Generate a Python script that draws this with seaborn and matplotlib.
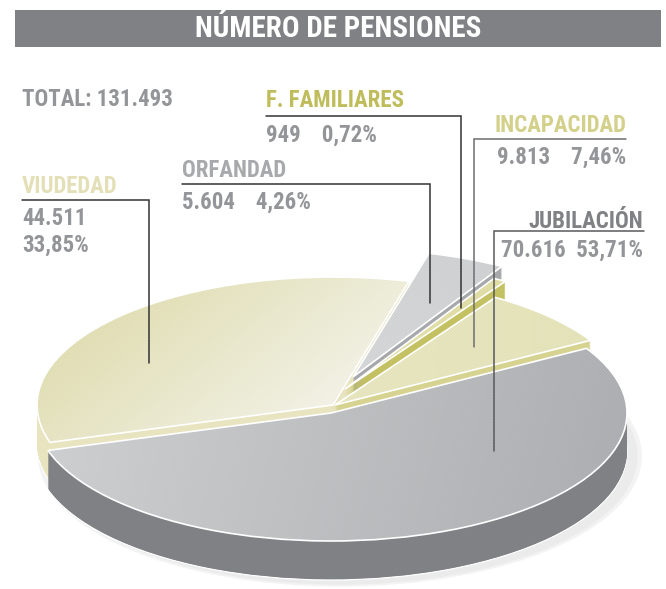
import numpy as np
import seaborn as sns
import matplotlib.pyplot as plt

sns.set_theme(style="white")
plt.rcParams['font.family'] = ['Roboto Condensed', 'DejaVu Sans']

W, H = 666, 589
RX, RY = 296, 128   # pie radius on screen, px
DEPTH = 39

categories = ["JUBILACIÓN", "INCAPACIDAD", "F. FAMILIARES", "ORFANDAD", "VIUDEDAD"]
counts = [70616, 9813, 949, 5604, 44511]
count_labels = ["70.616", "9.813", "949", "5.604", "44.511"]
pct_labels = ["53,71%", "7,46%", "0,72%", "4,26%", "33,85%"]
total_label = "TOTAL: 131.493"
title = "NÚMERO DE PENSIONES"

# where each slice was pulled to, px
centers = [(331, 413), (335, 405), (345, 389), (353, 377), (333, 405)]
wall_colors = ["#808184", "#d6d391", "#c4c162", "#a7a8ab", "#e7e4bf"]
wall_z = [9, 6, 4, 2, 1]
top_z = [10, 7, 5, 3, 8]
# gradient start, end, direction (dx, dy)
top_fill = [("#cdcfd0", "#a9abae", (1, 0.25)),
            ("#e8e6c4", "#e2e0b6", (1, 0)),
            ("#e2e0ae", "#dcda9f", (1, 0)),
            ("#dcddde", "#c9cacc", (1, -0.6)),
            ("#d9d6a2", "#f0efe3", (0.8, 1))]


def X(px):
    return px / RX


def Y(py):
    return (H - py) / RY


fig = plt.figure(figsize=(W / 100, H / 100), dpi=100)
ax = fig.add_axes([0, 0, 1, 1])

# soft shadow under the pie
for r, col in [(1.02, "#f3f3f4"), (1.005, "#ebebec")]:
    sh = ax.pie([1], radius=r, colors=[col], center=(X(340), Y(456)),
                wedgeprops=dict(linewidth=0))[0][0]
    sh.set_zorder(0)

# side walls, lowest layer first
for d in range(DEPTH, 0, -1):
    wedges = ax.pie(counts, startangle=197, colors=wall_colors,
                    wedgeprops=dict(linewidth=0))[0]
    for i, w in enumerate(wedges):
        w.set_center((X(centers[i][0]), Y(centers[i][1] + d)))
        w.set_zorder(wall_z[i])
        if d == DEPTH:
            w.set_edgecolor("white")
            w.set_linewidth(0.9)

# top faces
yy, xx = np.mgrid[0:H, 0:W]
stripes = ((xx + yy) % 3 == 0) * 0.025
tops = ax.pie(counts, startangle=197, colors=["none"] * 5,
              wedgeprops=dict(edgecolor="white", linewidth=1.2))[0]
for i, w in enumerate(tops):
    w.set_center((X(centers[i][0]), Y(centers[i][1])))
    w.set_zorder(top_z[i] + 0.5)
    c0, c1, (dx, dy) = top_fill[i]
    cmap = sns.blend_palette([c0, c1], as_cmap=True)
    grad = (xx - centers[i][0]) * dx + (yy - centers[i][1]) * dy
    lo, hi = -RX * abs(dx) - RY * abs(dy), RX * abs(dx) + RY * abs(dy)
    if i == 4:
        hi = 0
    rgb = cmap(np.clip((grad - lo) / (hi - lo), 0, 1))[:, :, :3]
    rgb = np.clip(rgb + stripes[:, :, None], 0, 1)
    im = ax.imshow(rgb, extent=(X(0), X(W), Y(H), Y(0)), origin="upper",
                   aspect="auto", interpolation="nearest", zorder=top_z[i])
    im.set_clip_path(w)

# title band
ax.fill_between([X(15), X(661)], Y(47), Y(10), color="#808184", lw=0, zorder=11)
ax.text(X(338), Y(29), title, color="white", fontsize=21, fontweight="bold",
        ha="center", va="center", zorder=12)

GREY = "#939598"
FS = 16.5
ax.text(X(22), Y(106), total_label, color=GREY, fontsize=FS, fontweight="bold", va="baseline")

# label x, name baseline, value baseline, name colour, alignment
label_x = [643, 626, 266, 182, 22]
name_y = [228, 132, 107, 177, 193]
value_y = [257, 164, 142, 209, 225]
name_colors = ["#808184", "#d3d08a", "#bfbd5b", "#a7a9ac", "#e3e0b8"]
aligns = ["right", "right", "left", "left", "left"]
for i in range(5):
    ax.text(X(label_x[i]), Y(name_y[i]), categories[i], color=name_colors[i], fontsize=FS,
            fontweight="bold", ha=aligns[i], zorder=12)
    if i == 4:
        ax.text(X(22), Y(value_y[i]), count_labels[i], color=GREY, fontsize=FS, fontweight="bold", zorder=12)
        ax.text(X(22), Y(252), pct_labels[i], color=GREY, fontsize=FS, fontweight="bold", zorder=12)
    else:
        sep = "  " if i == 0 else "    "
        ax.text(X(label_x[i]), Y(value_y[i]), count_labels[i] + sep + pct_labels[i], color=GREY,
                fontsize=FS, fontweight="bold", ha=aligns[i], zorder=12)

# leader lines: x end of rule, rule y, x of drop, y of drop end, colour
rule_x = [644, 626, 266, 182, 22]
rule_y = [231, 139, 115.5, 184, 200]
drop_x = [494, 474, 461, 430, 149]
drop_y = [451, 347, 308, 303, 363]
line_cols = ["#58595b", "#6d6e71", "#333333", "#333333", "#333333"]
for i in range(5):
    ax.plot([X(rule_x[i]), X(drop_x[i]), X(drop_x[i])], [Y(rule_y[i]), Y(rule_y[i]), Y(drop_y[i])],
            color=line_cols[i], lw=1.1, solid_joinstyle="miter", zorder=13)

ax.set_xlim(X(0), X(W))
ax.set_ylim(Y(H), Y(0))
ax.axis("off")
fig.savefig("out.png", dpi=100)
